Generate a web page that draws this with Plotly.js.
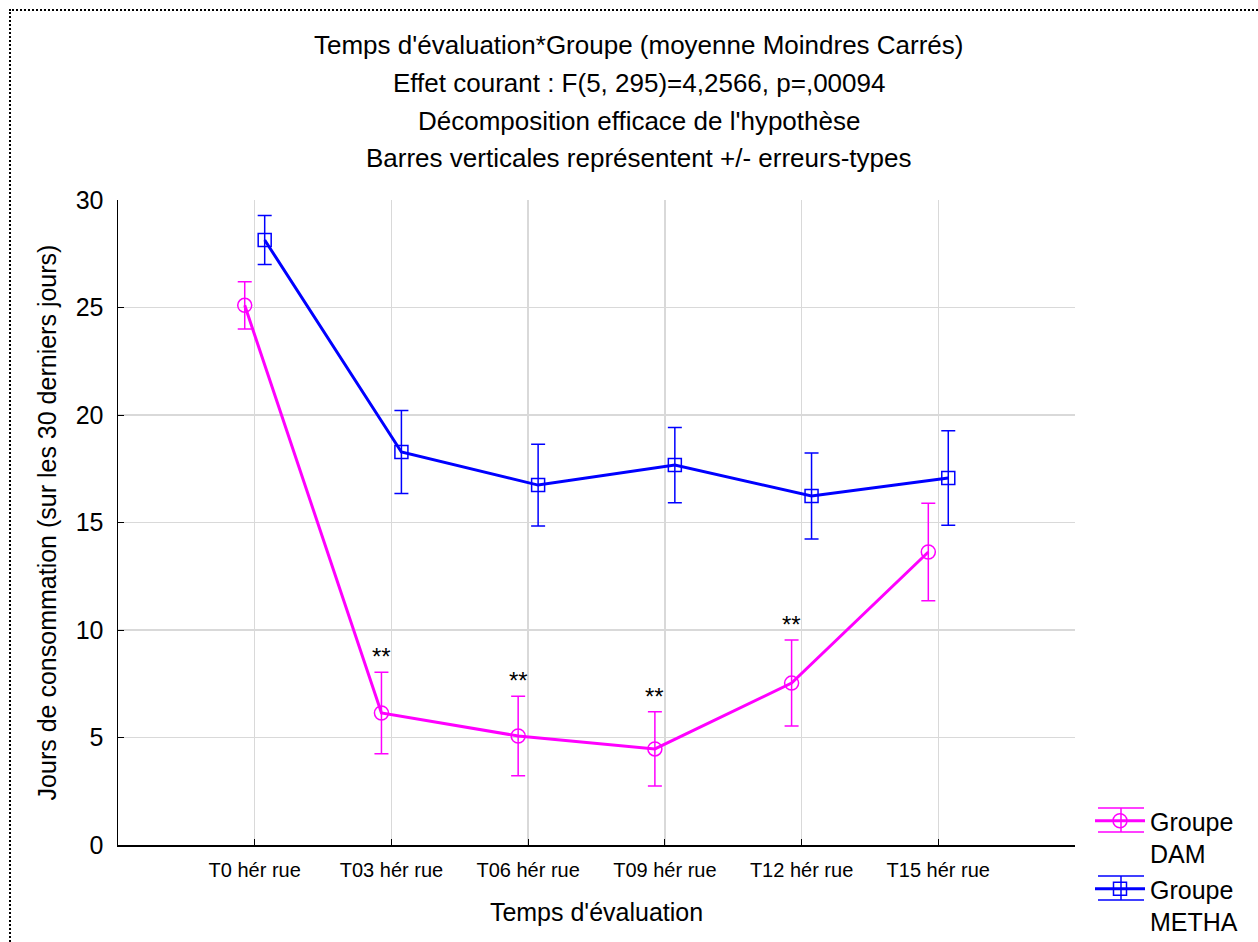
<!DOCTYPE html>
<html>
<head>
<meta charset="utf-8">
<script src="https://cdn.plot.ly/plotly-3.0.1.min.js"></script>
<style>
  html, body { margin: 0; padding: 0; width: 1258px; height: 942px; overflow: hidden; background: #fff; }
  #frame { position: absolute; left: 9px; top: 9px; width: 1400px; height: 1100px; border: 2px dotted #000; box-sizing: border-box; }
  #chart { position: absolute; left: 0; top: 0; width: 1258px; height: 942px; }
</style>
</head>
<body>
<div id="frame"></div>
<div id="chart"></div>
<script>
// ---- data ----
const categories = ["T0 hér rue", "T03 hér rue", "T06 hér rue", "T09 hér rue", "T12 hér rue", "T15 hér rue"];
const damMeans   = [25.1, 6.14, 5.07, 4.47, 7.53, 13.63];
const damSE      = [1.1, 1.9, 1.85, 1.73, 2.0, 2.27];
const methaMeans = [28.14, 18.28, 16.74, 17.67, 16.23, 17.07];
const methaSE    = [1.14, 1.93, 1.9, 1.75, 2.0, 2.2];
const significance = ["", "**", "**", "**", "**", ""];
const titleLines = [
  "Temps d'évaluation*Groupe (moyenne Moindres Carrés)",
  "Effet courant : F(5, 295)=4,2566, p=,00094",
  "Décomposition efficace de l'hypothèse",
  "Barres verticales représentent +/- erreurs-types"
];
const yTicks = [0, 5, 10, 15, 20, 25, 30];

// ---- layout helpers ----
const FONT = "Liberation Sans, Arial, sans-serif";
const BIG = 25;
const MAG = "#ff00ff", BLU = "#0000ff";
const dodge = 0.073;
const idx = categories.map((c, i) => i);
const xDam = idx.map(i => i - dodge);
const xMetha = idx.map(i => i + dodge);

// pixel -> paper helpers (plot area: x 118..1075, y 200..845)
const px = p => (p - 118) / 957;
const py = p => (845 - p) / 645;

const traces = [
  {
    x: xDam, y: damMeans, type: "scatter", mode: "lines+markers",
    name: "Groupe<br>DAM",
    line: { color: MAG, width: 3 },
    marker: { symbol: "circle-open", size: 14, color: MAG, line: { width: 1.5, color: MAG } },
    error_y: { type: "data", array: damSE, visible: true, color: MAG, thickness: 1.5, width: 7 }
  },
  {
    x: xMetha, y: methaMeans, type: "scatter", mode: "lines+markers",
    name: "Groupe<br>METHA",
    line: { color: BLU, width: 3 },
    marker: { symbol: "square-open", size: 13, color: BLU, line: { width: 1.5, color: BLU } },
    error_y: { type: "data", array: methaSE, visible: true, color: BLU, thickness: 1.5, width: 7 }
  }
];

const annotations = [];
const titleY = [45, 83, 121, 158];
titleLines.forEach((t, i) => {
  annotations.push({
    text: t, xref: "paper", yref: "paper", x: px(639),
    y: py(titleY[i]), xanchor: "center", yanchor: "middle",
    showarrow: false, font: { family: FONT, size: 26, color: "#000" }
  });
});
significance.forEach((s, i) => {
  if (!s) return;
  annotations.push({
    text: s, x: xDam[i], y: damMeans[i] + damSE[i], xref: "x", yref: "y",
    xanchor: "center", yanchor: "bottom", yshift: 0, showarrow: false,
    font: { family: FONT, size: 24, color: "#000" }
  });
});

// legend error-bar decorations (caps drawn around legend symbols)
function legendBars(yc, color) {
  const h = 12, xl = 1098, xr = 1144, xc = 1121;
  return [
    { type: "line", xref: "paper", yref: "paper", x0: px(xl), x1: px(xr), y0: py(yc - h), y1: py(yc - h), line: { color: color, width: 1.5 } },
    { type: "line", xref: "paper", yref: "paper", x0: px(xl), x1: px(xr), y0: py(yc + h), y1: py(yc + h), line: { color: color, width: 1.5 } },
    { type: "line", xref: "paper", yref: "paper", x0: px(xc), x1: px(xc), y0: py(yc - h), y1: py(yc + h), line: { color: color, width: 1.5 } }
  ];
}

const layout = {
  width: 1258, height: 942,
  paper_bgcolor: "rgba(0,0,0,0)", plot_bgcolor: "#fff",
  margin: { l: 118, r: 183, t: 200, b: 97, pad: 0, autoexpand: false },
  font: { family: FONT, color: "#000" },
  showlegend: true,
  legend: {
    x: px(1090), xanchor: "left", y: py(798), yanchor: "top",
    font: { family: FONT, size: BIG, color: "#000" },
    bgcolor: "rgba(0,0,0,0)", tracegroupgap: 0, itemwidth: 50, valign: "top"
  },
  xaxis: {
    range: [-1, 6], tickvals: idx, ticktext: categories,
    showgrid: true, gridcolor: "#d9d9d9", gridwidth: 1.5,
    zeroline: false, showline: true, linecolor: "#000", linewidth: 1.5,
    ticks: "inside", ticklen: 6, tickcolor: "#000", tickwidth: 1,
    tickfont: { family: FONT, size: 20, color: "#000" },
    ticklabelstandoff: 6,
    title: { text: "Temps d'évaluation", font: { family: FONT, size: BIG, color: "#000" }, standoff: 24 }
  },
  yaxis: {
    range: [0, 30], tickvals: yTicks,
    showgrid: true, gridcolor: "#d9d9d9", gridwidth: 1.5,
    zeroline: false, showline: true, linecolor: "#000", linewidth: 1.5,
    ticks: "inside", ticklen: 6, tickcolor: "#000", tickwidth: 1,
    tickfont: { family: FONT, size: BIG, color: "#000" },
    ticklabelstandoff: 8,
    title: { text: "Jours de consommation (sur les 30 derniers jours)", font: { family: FONT, size: BIG, color: "#000" }, standoff: 12 }
  },
  shapes: [].concat(legendBars(820, MAG), legendBars(888, BLU)),
  annotations: annotations
};

Plotly.newPlot("chart", traces, layout, { displayModeBar: false, staticPlot: true });
</script>
</body>
</html>
